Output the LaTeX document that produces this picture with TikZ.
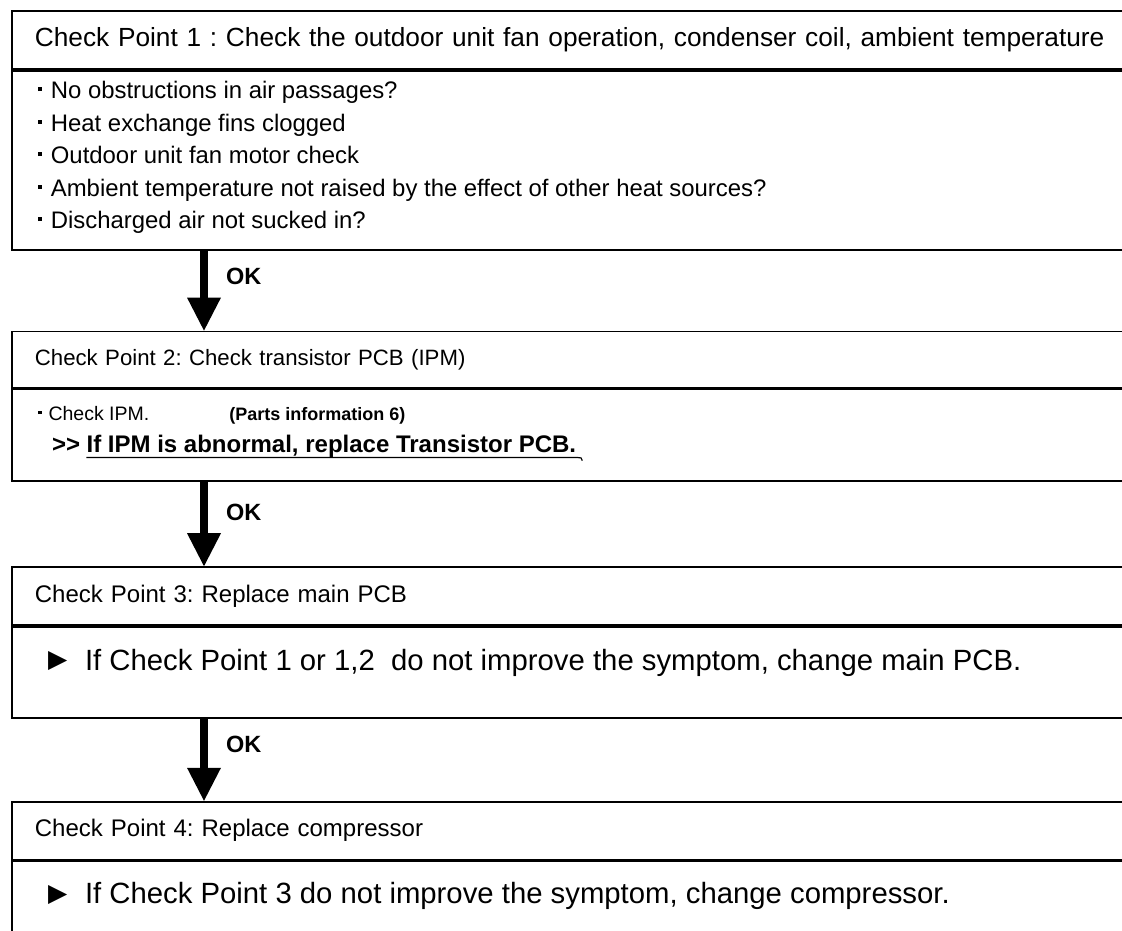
\documentclass[tikz,border=0pt]{standalone}
\usepackage{fontspec}
\setmainfont{Liberation Sans}
\newfontfamily\symfont{DejaVu Sans}
\usetikzlibrary{arrows.meta,positioning}
\newcommand{\sqdot}{\rule[0.32em]{0.17em}{0.17em}\hspace{0.36em}}
\newcommand{\tri}{\raisebox{0.08em}{\symfont\fontsize{25}{25}\selectfont ▶}\hspace{0.6em}}
\tikzset{
  hdbox/.style={draw=black, line width=1.8pt, anchor=north west, minimum height=58pt, inner xsep=23pt, inner ysep=0pt, text width=1114pt, align=left, font=\fontsize{24}{28}\selectfont},
  bdbox/.style={draw=black, line width=1.8pt, anchor=north west, minimum width=1160pt, inner sep=0pt},
  itm/.style={anchor=base west, inner sep=0pt, font=\fontsize{23.9}{28}\selectfont},
  itmS/.style={itm, font=\fontsize{19.5}{24}\selectfont},
  itmB/.style={itm, font=\bfseries\fontsize{24}{28}\selectfont},
  big/.style={anchor=base west, inner sep=0pt, font=\fontsize{29.3}{34}\selectfont},
  flow/.style={-{Triangle[length=33pt,width=34pt,line width=0pt]}, line width=8pt},
  oklbl/.style={anchor=west, inner sep=0pt, xshift=18pt, font=\bfseries\fontsize{23.5}{26}\selectfont},
}
\begin{document}
\frenchspacing
\begin{tikzpicture}[x=1pt,y=-1pt]
  \useasboundingbox (0,0) rectangle (1122,930);
  \clip (0,0) rectangle (1122,930);
  % check point 1
  \node[hdbox, font=\fontsize{26.25}{30}\selectfont] (h1) at (11,10) {Check Point 1 : Check the outdoor unit fan operation, condenser coil, ambient temperature};
  \node[bdbox, minimum height=179pt] (b1) at (h1.south west) {};
  \foreach \t [count=\i] in {No obstructions in air passages?, Heat exchange fins clogged, Outdoor unit fan motor check, Ambient temperature not raised by the effect of other heat sources?, Discharged air not sucked in?} {
    \node[itm] (p\i) at ([xshift=27pt, yshift={-29pt-32.5pt*(\i-1)}]b1.north west) {\sqdot\t};
  }
  % check point 2
  \node[hdbox, minimum height=56pt, font=\fontsize{22.2}{28}\selectfont, below=80pt of b1.south west, anchor=north west] (h2) {Check Point 2: Check transistor PCB (IPM)};
  \node[bdbox, minimum height=92pt] (b2) at (h2.south west) {};
  \node[itmS] (ipm) at ([xshift=27pt, yshift=-32pt]b2.north west) {\sqdot Check IPM.\hspace{4.1em}{\bfseries\fontsize{18}{24}\selectfont(Parts information 6)}};
  \node[itmB] (gt) at ([xshift=41pt, yshift=-64pt]b2.north west) {>{}>};
  \node[itmB] (fix) at ([xshift=6pt]gt.base east) {If IPM is abnormal, replace Transistor PCB.};
  \draw[line width=1.2pt] (fix.south west) -- ([xshift=2pt]fix.south east) .. controls ([xshift=5pt]fix.south east) .. ([xshift=6pt, yshift=-3pt]fix.south east);
  % check point 3
  \node[hdbox, below=84pt of b2.south west, anchor=north west] (h3) {Check Point 3: Replace main PCB};
  \node[bdbox, minimum height=91pt] (b3) at (h3.south west) {};
  \node[big] (pcb) at ([xshift=37pt, yshift=-44pt]b3.north west) {\tri If Check Point 1 or 1,2 \ do not improve the symptom, change main PCB.};
  % check point 4
  \node[hdbox, below=82pt of b3.south west, anchor=north west] (h4) {Check Point 4: Replace compressor};
  \node[bdbox, minimum height=200pt] (b4) at (h4.south west) {};
  \node[big] (comp) at ([xshift=37pt, yshift=-43pt]b4.north west) {\tri If Check Point 3 do not improve the symptom, change compressor.};
  % OK arrows
  \draw[flow] ([xshift=193pt]b1.south west) -- node[oklbl, pos=0.32] (ok1) {OK} ([xshift=193pt]h2.north west);
  \draw[flow] ([xshift=193pt]b2.south west) -- node[oklbl, pos=0.36] (ok2) {OK} ([xshift=193pt]h3.north west);
  \draw[flow] ([xshift=193pt]b3.south west) -- node[oklbl, pos=0.31] (ok3) {OK} ([xshift=193pt]h4.north west);
\end{tikzpicture}
\end{document}
